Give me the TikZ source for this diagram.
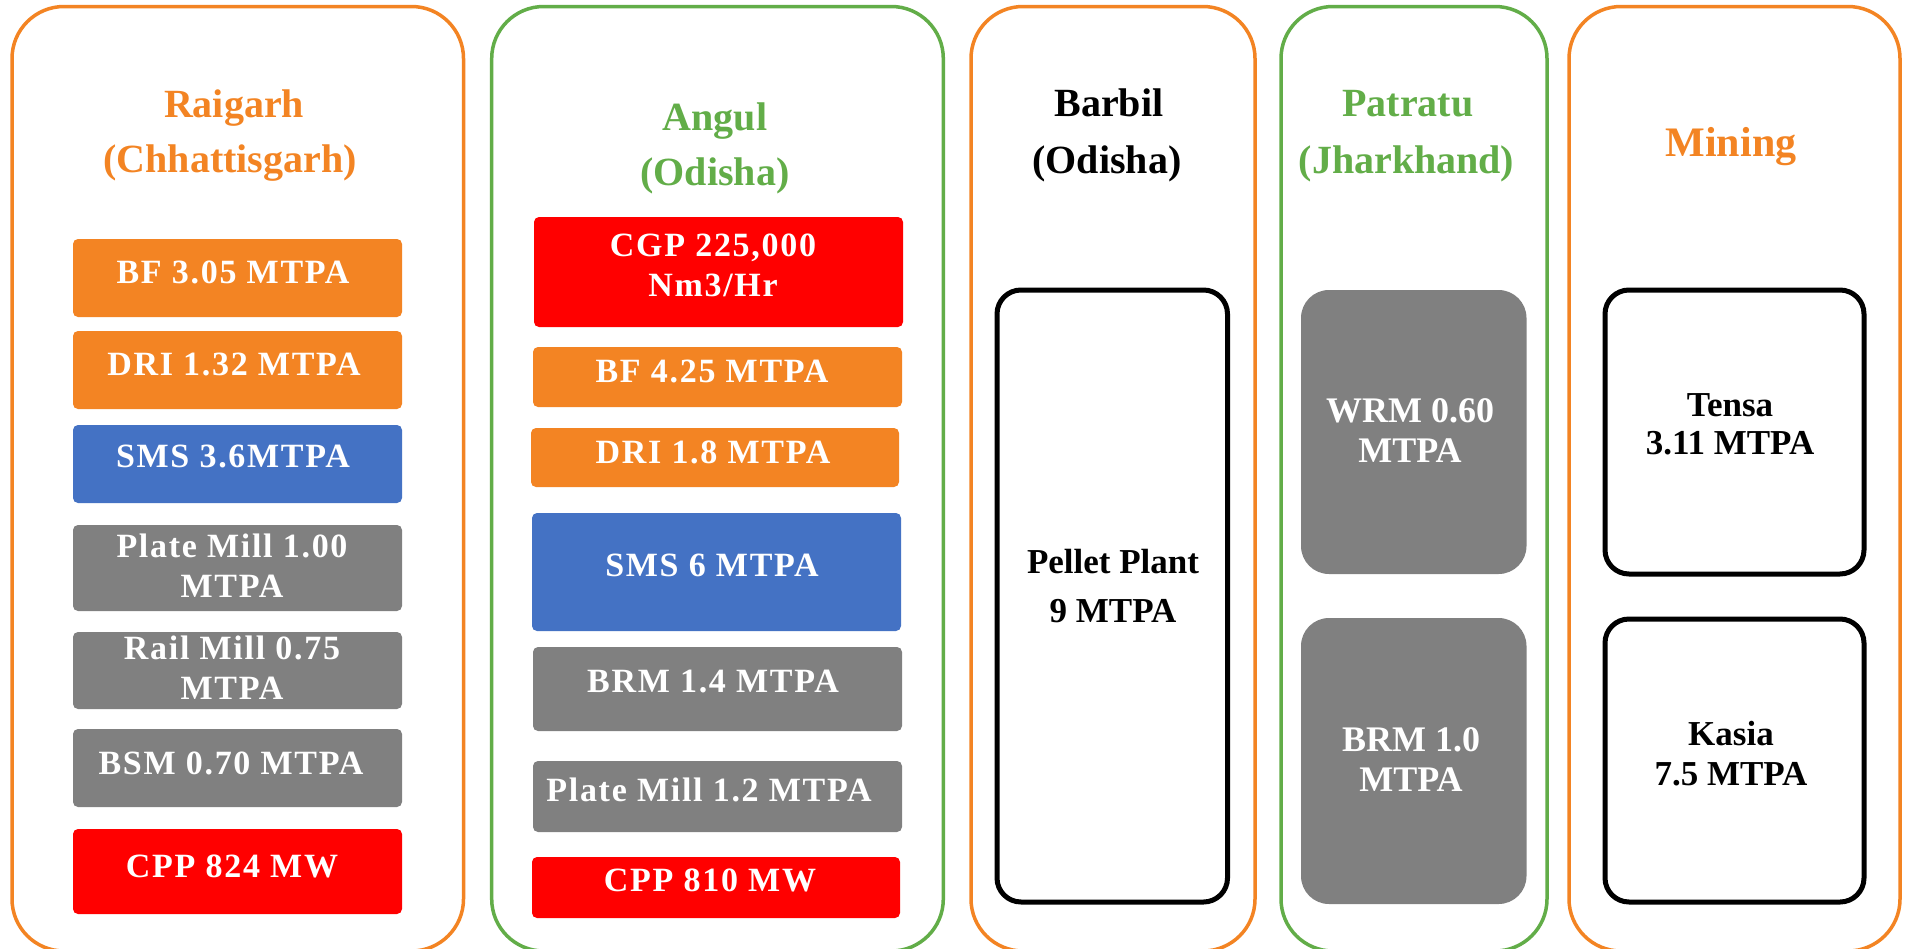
\documentclass[tikz,border=0pt]{standalone}
\usepackage{fontspec}
\setmainfont{Liberation Serif}
\newfontfamily\spfont[LetterSpace=5]{Liberation Serif}
\definecolor{orng}{RGB}{243,132,35}
\definecolor{grn}{RGB}{98,173,72}
\definecolor{blu}{RGB}{68,114,196}
\definecolor{gry}{RGB}{128,128,128}
\definecolor{rd}{RGB}{255,0,0}
\tikzset{
  panel/.style={draw=#1, line width=1.75pt, rounded corners=26pt, fill=white},
  fbox/.style={fill=#1, draw=none, rounded corners=2.5pt},
  bbox/.style={draw=black, line width=2.5pt, rounded corners=12pt, fill=white},
  gbox/.style={fill=gry, draw=none, rounded corners=14pt},
  ttl/.style={font=\bfseries\fontsize{20}{24}\selectfont, anchor=base, inner sep=0pt},
  btxt/.style={font=\spfont\bfseries\fontsize{17}{20}\selectfont, text=white, align=center, inner sep=0pt},
  ctxt/.style={font=\bfseries\fontsize{18}{20}\selectfont, align=center, inner sep=0pt},
}
\newcommand\rbox[6]{%
  \node[#2, inner sep=0pt, outer sep=0pt,
        minimum width={(#5-#3)*0.5pt}, minimum height={(#6-#4)*0.5pt}]
        (#1) at ({(#3+#5)/2},{(#4+#6)/2}) {};}
\begin{document}
\begin{tikzpicture}[x=0.5pt,y=-0.5pt]
\useasboundingbox (0,0) rectangle (1906,948);
\fill[white] (0,0) rectangle (1906,948);

% panels
\rbox{p1}{panel=orng}{12}{6.5}{463.5}{951}
\rbox{p2}{panel=grn}{491.7}{6.5}{943.3}{951}
\rbox{p3}{panel=orng}{971}{6.5}{1255}{951}
\rbox{p4}{panel=grn}{1281}{6.5}{1547}{951}
\rbox{p5}{panel=orng}{1569}{6.5}{1900}{951}

% titles
\node[ttl, text=orng] (t1a) at (234,117) {Raigarh};
\node[ttl, text=orng] (t1b) at (230,172) {(Chhattisgarh)};
\node[ttl, text=grn] (t2a) at (715,130) {Angul};
\node[ttl, text=grn] (t2b) at (715,185.5) {(Odisha)};
\node[ttl, text=black] (t3a) at (1109,116) {Barbil};
\node[ttl, text=black] (t3b) at (1107,173.5) {(Odisha)};
\node[ttl, text=grn] (t4a) at (1408,116) {Patratu};
\node[ttl, text=grn] (t4b) at (1406.5,173) {(Jharkhand)};
\node[ttl, text=orng, font=\bfseries\fontsize{21}{24}\selectfont] (t5) at (1731,156) {Mining};

% Raigarh boxes
\rbox{bf1}{fbox=orng}{73}{239}{402}{317}
\rbox{dri1}{fbox=orng}{73}{331}{402}{409}
\rbox{sms1}{fbox=blu}{73}{425}{402}{503}
\rbox{pm1}{fbox=gry}{73}{525}{402}{611}
\rbox{rm1}{fbox=gry}{73}{632}{402}{709}
\rbox{bsm1}{fbox=gry}{73}{729}{402}{807}
\rbox{cpp1}{fbox=rd}{73}{829}{402}{914}
\node[btxt] (bf1t) at (233,272) {BF 3.05 MTPA};
\node[btxt] (dri1t) at (234,364) {DRI 1.32 MTPA};
\node[btxt] (sms1t) at (233,456.5) {SMS 3.6MTPA};
\node[btxt] (pm1t) at (232,566) {Plate Mill 1.00\\MTPA};
\node[btxt] (rm1t) at (232,668) {Rail Mill 0.75\\MTPA};
\node[btxt] (bsm1t) at (231,763) {BSM 0.70 MTPA};
\node[btxt] (cpp1t) at (232,866) {CPP 824 MW};

% Angul boxes
\rbox{cgp}{fbox=rd}{534}{217}{903}{327}
\rbox{bf2}{fbox=orng}{533}{347}{902}{407}
\rbox{dri2}{fbox=orng}{531}{428}{899}{487}
\rbox{sms2}{fbox=blu}{532}{513}{901}{631}
\rbox{brm2}{fbox=gry}{533}{647}{902}{731}
\rbox{pm2}{fbox=gry}{533}{761}{902}{832}
\rbox{cpp2}{fbox=rd}{532}{857}{900}{918}
\node[btxt] (cgpt) at (713,265.5) {CGP 225,000\\Nm3/Hr};
\node[btxt] (bf2t) at (712,371) {BF 4.25 MTPA};
\node[btxt] (dri2t) at (713,452.5) {DRI 1.8 MTPA};
\node[btxt] (sms2t) at (712,565) {SMS 6 MTPA};
\node[btxt] (brm2t) at (713,682) {BRM 1.4 MTPA};
\node[btxt] (pm2t) at (709,789.5) {Plate Mill 1.2 MTPA};
\node[btxt] (cpp2t) at (710,880.5) {CPP 810 MW};

% Barbil
\rbox{pel}{bbox}{997}{290}{1227.5}{902}
\node[ctxt, font=\bfseries\fontsize{17.5}{24.5}\selectfont] (pelt) at (1113,586.5) {Pellet Plant\\9 MTPA};

% Patratu
\rbox{wrm}{gbox}{1301}{290}{1526.5}{574}
\rbox{brm4}{gbox}{1301}{618}{1526.5}{904}
\node[ctxt, text=white] (wrmt) at (1410,431) {WRM 0.60\\MTPA};
\node[ctxt, text=white] (brm4t) at (1411,760) {BRM 1.0\\MTPA};

% Mining
\rbox{tensa}{bbox}{1605}{290}{1864}{574}
\rbox{kasia}{bbox}{1605}{619}{1864}{902}
\node[ctxt, font=\bfseries\fontsize{17.5}{19}\selectfont] (tensat) at (1730,424.5) {Tensa\\3.11 MTPA};
\node[ctxt, font=\bfseries\fontsize{17.5}{20}\selectfont] (kasiat) at (1731,754) {Kasia\\7.5 MTPA};
\end{tikzpicture}
\end{document}
